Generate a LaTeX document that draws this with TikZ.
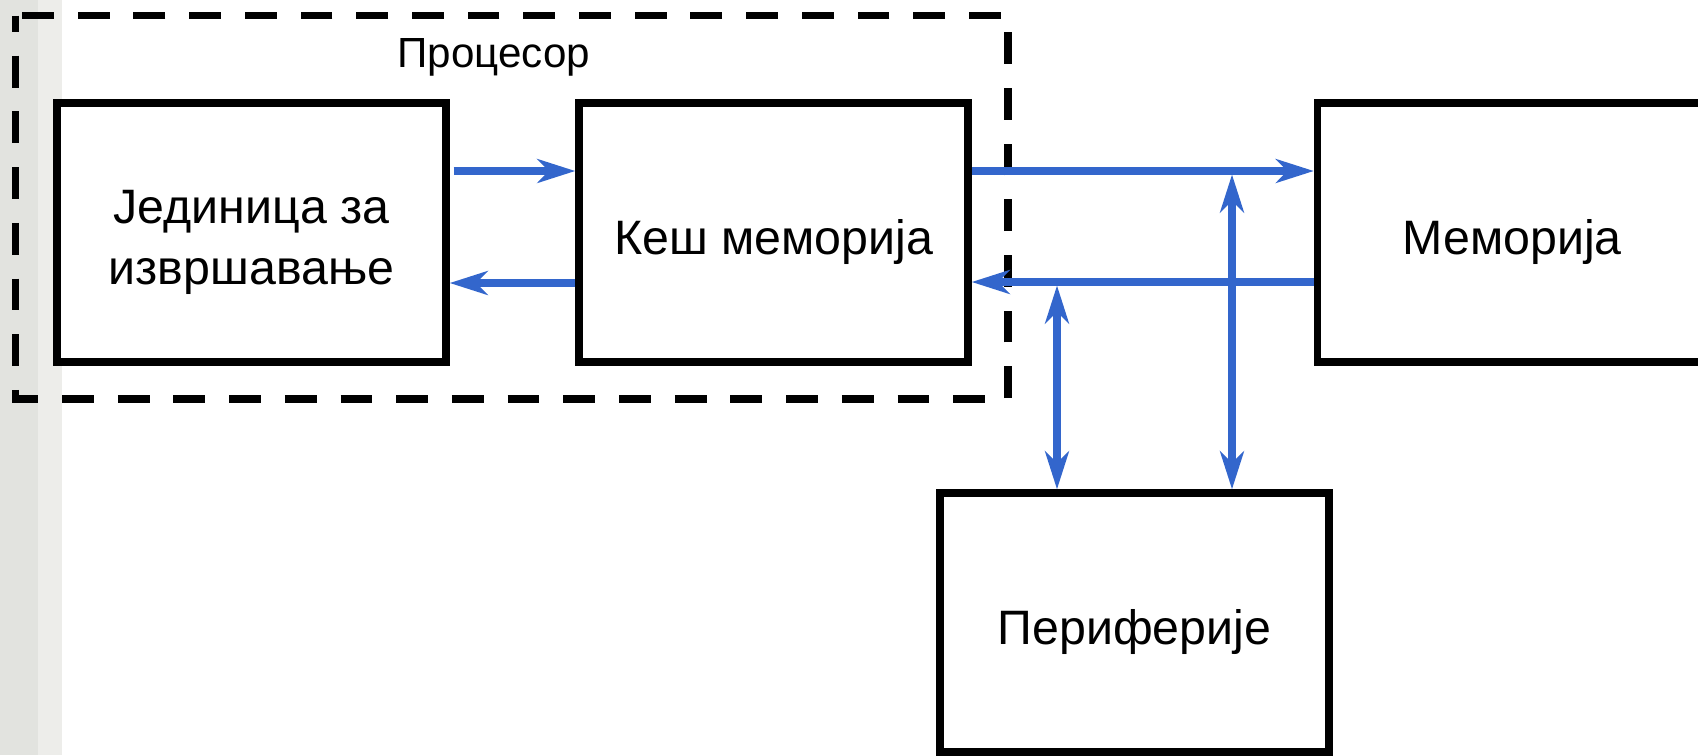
\documentclass[tikz,border=0pt]{standalone}
\usepackage{fontspec}
\setmainfont{Liberation Sans}
\usetikzlibrary{arrows.meta,positioning}
\definecolor{busblue}{RGB}{51,102,204}
\definecolor{stripgray}{RGB}{226,227,223}
\definecolor{stripband}{RGB}{237,237,234}
\tikzset{
	boxtext/.style={align=center, font=\fontsize{27.5}{35}\selectfont, yshift=-5.5pt},
	unit/.style={draw=black, line width=4.25pt, fill=white, inner sep=0pt,
		minimum width=7.78cm, minimum height=5.18cm,
		label={[boxtext]center:#1}},
	bushead/.tip={Stealth[length=21.5pt,width=13.5pt,inset=6.5pt]},
	bus/.style={draw=busblue, line width=4pt, -bushead},
	busboth/.style={draw=busblue, line width=4pt, bushead-bushead},
}

\begin{document}
\begin{tikzpicture}[x=0.02cm, y=-0.02cm]
		%%%%% START %%%%%
		\useasboundingbox (0,0) rectangle (1698,755);
		\clip (0,0) rectangle (1698,755);
		\fill[stripgray] (0,0) rectangle (38,755);
		\fill[stripband] (38,0) rectangle (62,755);
		
		% processor frame
		\draw[line width=4.25pt, dash pattern=on 18.1pt off 13.6pt, dash phase=8.8pt]
			(15.5,15.5) -- (15.5,399) -- (1008,399) -- (1008,15.5) -- cycle;
		\node[anchor=base, font=\fontsize{24}{28}\selectfont] (cpu) at (494,67) {Процесор};
		
		\node[unit={Јединица за\\извршавање}] (exec) at (251.5,232.5) {};
		\node[unit={Кеш меморија}] (cache) at (773.5,232.5) {};
		\node[unit={Меморија}] (mem) at (1512,232.5) {};
		\node[unit={Периферије}] (periph) at (1134.5,622.5) {};
		
		% inside the processor
		\draw[bus] ([xshift=2.3pt]exec.east |- 0,171) -- (cache.west |- 0,171);
		\draw[bus] (cache.west |- 0,283) -- (exec.east |- 0,283);
		
		% bus lines
		\draw[bus] (cache.east |- 0,171) -- (mem.west |- 0,171);
		\draw[bus] (mem.west |- 0,282) -- (cache.east |- 0,282);
		\coordinate (tapL) at (1057,285.5);
		\coordinate (tapR) at (1232,174.5);
		\draw[busboth] (periph.north -| tapL) -- (tapL);
		\draw[busboth] (periph.north -| tapR) -- (tapR);
		%%%%% END %%%%%
\end{tikzpicture}
\end{document}
